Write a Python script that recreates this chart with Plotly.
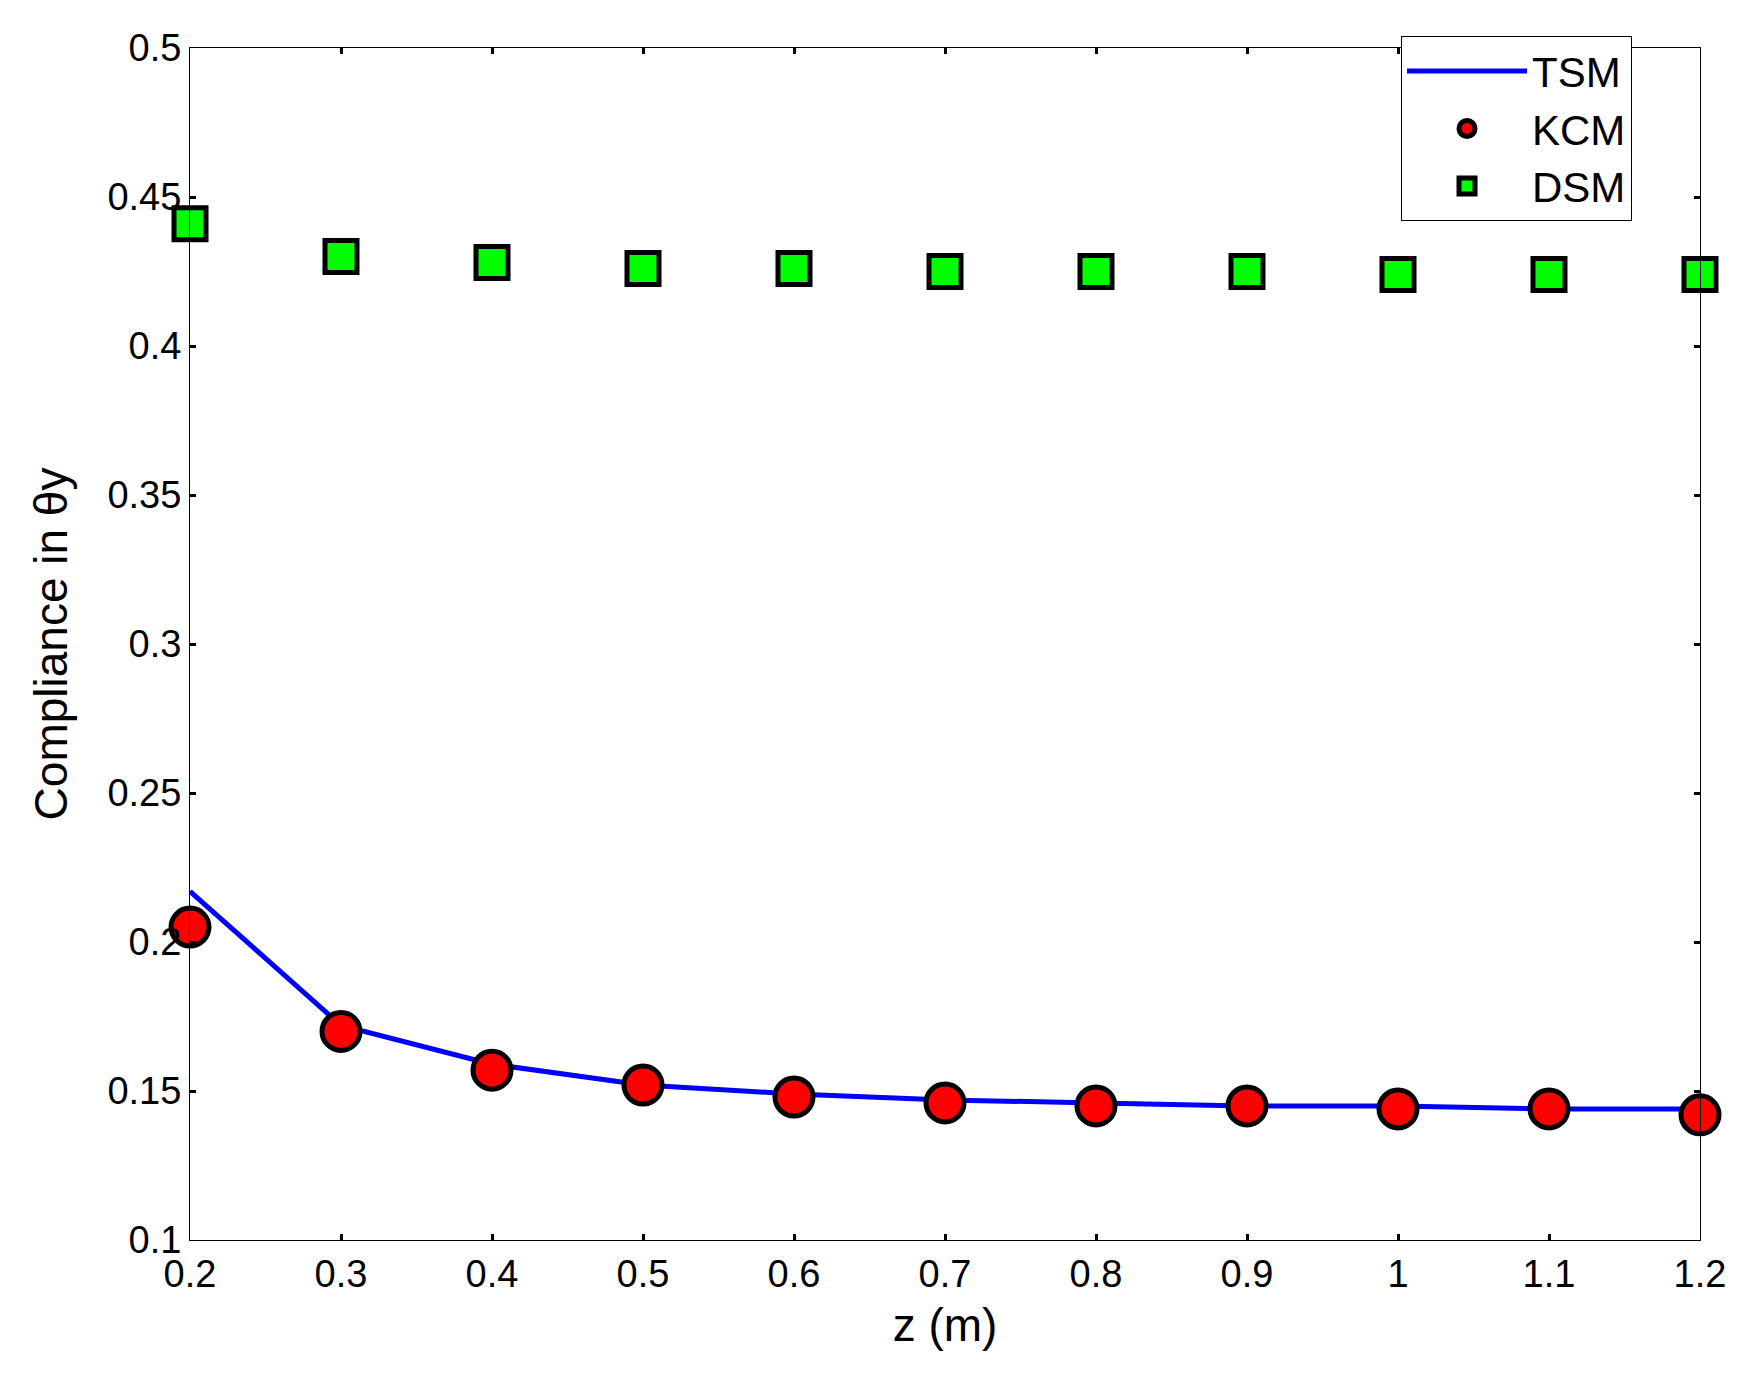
import plotly.graph_objects as go

z = [0.2, 0.3, 0.4, 0.5, 0.6, 0.7, 0.8, 0.9, 1.0, 1.1, 1.2]
tsm = [0.217, 0.172, 0.159, 0.152, 0.149, 0.147, 0.146, 0.145, 0.145, 0.144, 0.144]
kcm = [0.205, 0.170, 0.157, 0.152, 0.148, 0.146, 0.145, 0.145, 0.144, 0.144, 0.142]
dsm = [0.441, 0.430, 0.428, 0.426, 0.426, 0.425, 0.425, 0.425, 0.424, 0.424, 0.424]
xticks = [0.2, 0.3, 0.4, 0.5, 0.6, 0.7, 0.8, 0.9, 1.0, 1.1, 1.2]
xlabels = ["0.2", "0.3", "0.4", "0.5", "0.6", "0.7", "0.8", "0.9", "1", "1.1", "1.2"]
yticks = [0.1, 0.15, 0.2, 0.25, 0.3, 0.35, 0.4, 0.45, 0.5]
ylabels = ["0.1", "0.15", "0.2", "0.25", "0.3", "0.35", "0.4", "0.45", "0.5"]

fig = go.Figure()
fig.add_trace(go.Scatter(x=z, y=tsm, mode="lines", name="TSM",
                         line=dict(color="#0000ff", width=5), cliponaxis=False))
fig.add_trace(go.Scatter(x=z, y=kcm, mode="markers", name="KCM", cliponaxis=False,
                         marker=dict(symbol="circle", size=38, color="#ff0000",
                                     line=dict(color="black", width=5))))
fig.add_trace(go.Scatter(x=z, y=dsm, mode="markers", name="DSM", cliponaxis=False,
                         marker=dict(symbol="square", size=32, color="#00ff00",
                                     line=dict(color="black", width=5))))

W, H = 1749, 1385
l, r, t, b = 182, 57, 40, 153
ax = dict(showgrid=False, zeroline=False, ticks="inside", ticklen=6, tickwidth=3,
          tickcolor="black", mirror="ticks", showline=True, linecolor="black", linewidth=1)
fig.update_layout(
    width=W, height=H, margin=dict(l=l, r=r, t=t, b=b),
    plot_bgcolor="white", paper_bgcolor="white",
    font=dict(family="Liberation Sans, Arial", size=38, color="black"),
    xaxis=dict(range=[0.2, 1.2], tickvals=xticks, ticktext=xlabels,
               title=dict(text="z (m)", standoff=15), **ax),
    yaxis=dict(range=[0.1, 0.5], tickvals=yticks, ticktext=ylabels,
               title=dict(text="Compliance in θy", standoff=25), **ax),
    legend=dict(x=0.802, y=1.01, xanchor="left", yanchor="top",
                bgcolor="white", bordercolor="black", borderwidth=1,
                font=dict(size=42), itemwidth=120, tracegroupgap=14),
)
fig.write_html("out.html")
